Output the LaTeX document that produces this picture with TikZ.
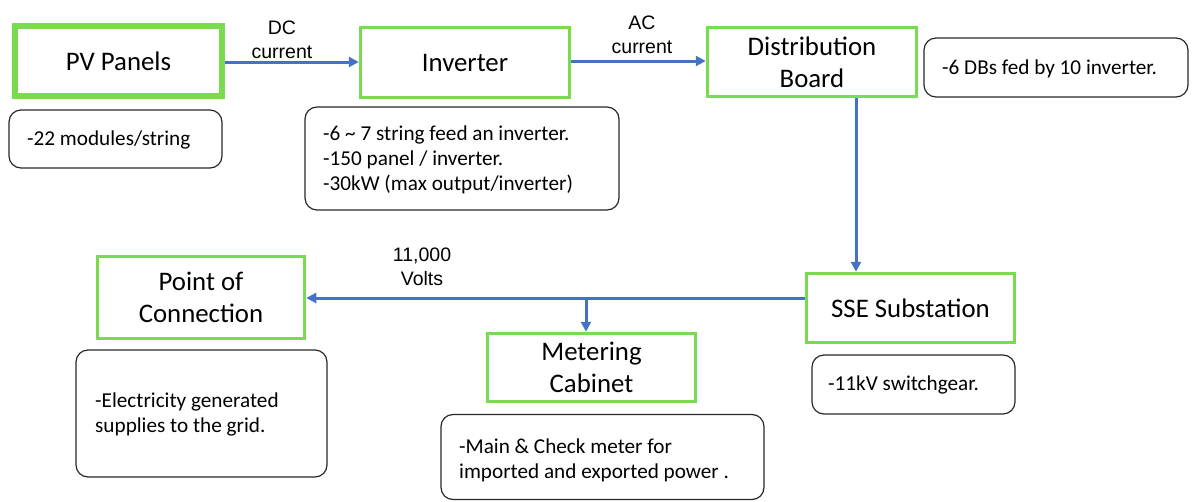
\documentclass[tikz,border=0pt]{standalone}
\usepackage{fontspec}
\setmainfont{Carlito}
\newfontfamily\arialfont{Liberation Sans}
\usetikzlibrary{arrows.meta}
\definecolor{boxgreen}{RGB}{122,218,80}
\definecolor{arrblue}{RGB}{68,114,196}
\definecolor{notegray}{RGB}{40,40,40}
\tikzset{
  gbox/.style={draw=boxgreen, line width=3.5pt, fill=white, inner sep=0pt, align=center,
    font=\fontsize{26.8}{32}\selectfont},
  notebox/.style={draw=notegray, line width=1.2pt, rounded corners=12pt, inner sep=0pt},
  notetext/.style={anchor=west, inner sep=0pt, align=left, font=\fontsize{21.2}{25}\selectfont},
  flowlabel/.style={inner sep=0pt, align=center, font=\arialfont\fontsize{19.5}{23.5}\selectfont},
  arr/.style={draw=arrblue, line width=3pt, -{Triangle[length=10pt,width=10pt]}}
}
\begin{document}
\begin{tikzpicture}[x=1pt,y=-1pt]
\useasboundingbox (0,0) rectangle (1192,501);
% green boxes
\node[gbox, line width=6pt, minimum width=207pt, minimum height=70pt] (pv) at (118.5,61) {PV Panels};
\node[gbox, minimum width=209pt, minimum height=70pt] (inv) at (465,62.5) {Inverter};
\node[gbox, minimum width=209pt, minimum height=69pt] (db) at (812,62) {Distribution\\Board};
\node[gbox, minimum width=208pt, minimum height=69pt] (sse) at (910.5,308) {SSE Substation};
\node[gbox, minimum width=207pt, minimum height=82pt] (poc) at (201,297.5) {Point of\\Connection};
\node[gbox, minimum width=208pt, minimum height=68pt] (met) at (591.5,367.5) {Metering\\Cabinet};
% note boxes
\node[notebox, minimum width=213pt, minimum height=58pt] (n1) at (115.5,139) {};
\node[notebox, minimum width=314pt, minimum height=103pt] (n2) at (462,158.5) {};
\node[notebox, minimum width=264pt, minimum height=59pt] (n3) at (1056,67.5) {};
\node[notebox, minimum width=251pt, minimum height=127pt] (n4) at (201.5,413.5) {};
\node[notebox, minimum width=323pt, minimum height=85pt] (n5) at (602.5,457) {};
\node[notebox, minimum width=203pt, minimum height=59pt] (n6) at (913.5,384.5) {};
% note texts
\node[notetext] (t1) at (27,140) {-22 modules/string};
\node[notetext] (t2) at (323,160) {-6 \textasciitilde{} 7 string feed an inverter.\\-150 panel / inverter.\\-30kW (max output/inverter)};
\node[notetext] (t3) at (942,69) {-6 DBs fed by 10 inverter.};
\node[notetext] (t4) at (95,414.5) {-Electricity generated\\supplies to the grid.};
\node[notetext] (t5) at (459,460.5) {-Main \& Check meter for\\imported and exported power .};
\node[notetext] (t6) at (828,385) {-11kV switchgear.};
% flow labels
\node[flowlabel] (l1) at (282,40) {DC\\current};
\node[flowlabel] (l2) at (642,35) {AC\\current};
\node[flowlabel] (l3) at (422,267) {11,000\\Volts};
% connector end points
\coordinate (pvout) at ([yshift=-1pt]pv.east);
\coordinate (invout) at ([yshift=1.5pt]inv.east);
\coordinate (dbout) at ([xshift=44pt]db.south);
\coordinate (sseout) at ([yshift=10pt]sse.west);
\coordinate (br) at (586,298);
% connectors
\draw[arr] (pvout) -- (inv.west |- pvout);
\draw[arr] (invout) -- (db.west |- invout);
\draw[arr] (dbout) -- (dbout |- sse.north);
\draw[arr] (sseout) -- (poc.east |- sseout);
\draw[arr] (br) -- (br |- met.north);
\end{tikzpicture}
\end{document}
